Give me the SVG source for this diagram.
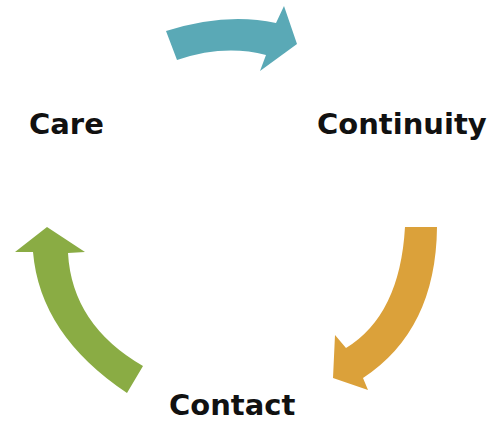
<svg xmlns="http://www.w3.org/2000/svg" width="494" height="422" viewBox="0 0 494 422">
<style>
.lbl{font-family:"DejaVu Sans","Open Sans",sans-serif;font-weight:700;font-size:29px;fill:#111}
</style>
<rect width="494" height="422" fill="#fff"/>
<g id="connectors">
<path id="arrow-care-continuity" fill="#5aa9b6" d="M166,31 Q226,12 276,23 L284,6 L297,44 L260,71 L266,55 Q224,44 177,60 Z"/>
<path id="arrow-continuity-contact" fill="#dba13a" d="M405,227 L437,227 Q436,330 363,378 L368,390 L333,378 L335,335 L346,348 Q400,315 405,227 Z"/>
<path id="arrow-contact-care" fill="#8aac44" d="M47,227 L85,252 L68,253 Q72,325 143,366 L127,393 Q40,335 33,252 L15,252 Z"/>
</g>
<g id="node-care"><text class="lbl" x="29" y="134">Care</text></g>
<g id="node-continuity"><text class="lbl" x="317" y="134">Continuity</text></g>
<g id="node-contact"><text class="lbl" x="169" y="415">Contact</text></g>
</svg>
